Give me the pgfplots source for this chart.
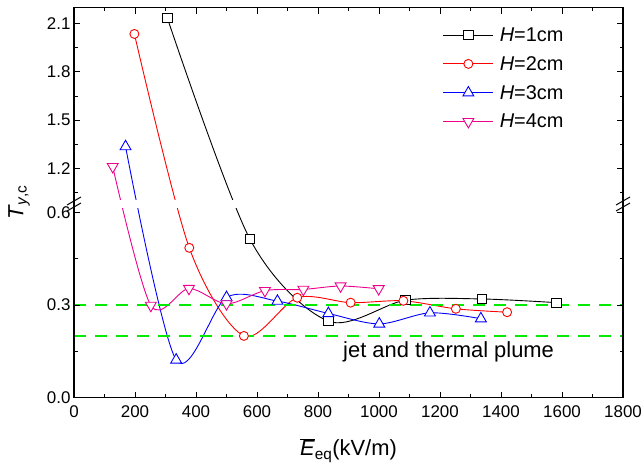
\documentclass[border=0pt]{standalone}
\usepackage{pgfplots}
\pgfplotsset{compat=1.18}
\usepackage{pgfplotstable}
\usepackage{fontspec}
\setmainfont{Liberation Sans}
\definecolor{dgreen}{RGB}{0,235,0}

\pgfplotstableread{
x y
306 2.135
577 0.514
834 0.248
1087 0.316
1337 0.320
1582 0.308
}\dataA
\pgfplotstableread{
x y
198 2.036
378 0.486
557 0.200
732 0.324
907 0.308
1080 0.314
1252 0.288
1420 0.277
}\dataB
\pgfplotstableread{
x y
169 1.335
335 0.122
500 0.325
667 0.313
834 0.273
1001 0.239
1167 0.275
1334 0.256
}\dataC
\pgfplotstableread{
x y
127 1.210
252 0.299
377 0.354
500 0.304
626 0.347
752 0.351
874 0.362
999 0.353
}\dataD

\pgfplotsset{
 sA/.style={black, line width=0.9bp},
 sB/.style={red, line width=0.9bp},
 sC/.style={blue, line width=0.9bp},
 sD/.style={magenta, line width=0.9bp},
 mA/.style={sA, mark=square*, mark size=4.7bp, mark options={fill=white, solid}},
 mB/.style={sB, mark=*, mark size=4.5bp, mark options={fill=white, solid}},
 mC/.style={sC, mark=triangle*, mark size=6.3bp, mark options={fill=white, solid}},
 mD/.style={sD, mark=triangle*, mark size=6.3bp, mark options={fill=white, solid, rotate=180}},
}

\begin{document}
\begin{tikzpicture}
\path[use as bounding box] (0,0) rectangle (644bp,-468bp);

\begin{axis}[name=main, at={(74bp,-397.5bp)}, anchor=south west,
  scale only axis, width=549bp, height=389.9bp,
  xmin=0, xmax=1800, ymin=0, ymax=2.2,
  y coord trafo/.code={\pgfmathparse{ifthenelse(#1>0.8, 0.640+(#1-1.0)*0.52175, #1)}},
  y coord inv trafo/.code={\pgfmathparse{ifthenelse(#1>0.628, 1.0+(#1-0.640)/0.52175, #1)}},
  axis on top,
  axis line style={black, line width=1.1bp},
  tick align=inside,
  major tick length=6bp, minor tick length=3.5bp,
  every tick/.append style={black, line width=0.9bp},
  xtick={0,200,...,1800}, minor x tick num=1,
  ytick={0,0.3,0.6,1.2,1.5,1.8,2.1},
  yticklabels={0.0,0.3,0.6,1.2,1.5,1.8,2.1},
  minor ytick={0.15,0.45,1.05,1.35,1.65,1.95},
  xtick pos=both, ytick pos=both,
  ticklabel style={font=\fontsize{17}{20}\selectfont},
  xticklabel style={yshift=-5bp},
  /pgf/number format/assume math mode=true,
  /pgf/number format/1000 sep={},
  xlabel={$\overline{\mbox{\itshape E}}$\textsubscript{eq}(kV/m)},
  xlabel style={font=\fontsize{22}{26}\selectfont, at={(rel axis cs:0.5,-0.150)}, anchor=base},
  ylabel={\textit{T}\textsubscript{\textit{y},c}},
  ylabel style={font=\fontsize{22}{26}\selectfont, at={(rel axis cs:-0.1,0.5)}, anchor=center},
  legend image code/.code={\draw[mark repeat=2,mark phase=2,#1] plot coordinates {(0bp,0bp)(25bp,0bp)(50bp,0bp)};},
  legend style={draw=none, fill=none, inner sep=0pt, outer sep=0pt,
    at={(rel axis cs:0.672,0.949)}, anchor=north west,
    font=\fontsize{20}{24}\selectfont, row sep=13.5bp, column sep=6bp,
    nodes={inner sep=0pt}},
  legend cell align=left,
]
\addplot[sA, smooth, forget plot] table {\dataA};
\addplot[mA, only marks, forget plot] table {\dataA};
\addplot[sB, smooth, forget plot] table {\dataB};
\addplot[mB, only marks, forget plot] table {\dataB};
\addplot[sC, smooth, forget plot] table {\dataC};
\addplot[mC, only marks, forget plot] table {\dataC};
\addplot[sD, smooth, forget plot] table {\dataD};
\addplot[mD, only marks, forget plot] table {\dataD};
\addplot[dgreen, line width=2.5bp, dash pattern=on 12bp off 9bp, forget plot] coordinates {(0,0.3)(1800,0.3)};
\addplot[dgreen, line width=2.5bp, dash pattern=on 12bp off 9bp, forget plot] coordinates {(0,0.2)(1800,0.2)};
% axis break band
\fill[white] (axis cs:0,0.615) rectangle (axis cs:1800,1.0);
\node[anchor=west, font=\fontsize{22}{26}\selectfont, inner sep=0pt] at (axis cs:882,0.148) {jet and thermal plume};
\addlegendimage{mA}
\addlegendentry{\textit{H}=1cm}
\addlegendimage{mB}
\addlegendentry{\textit{H}=2cm}
\addlegendimage{mC}
\addlegendentry{\textit{H}=3cm}
\addlegendimage{mD}
\addlegendentry{\textit{H}=4cm}
\end{axis}

% break marks
\foreach \xx in {74,623}{
  \draw[black, line width=1bp] (\xx bp-7bp,-205bp) -- (\xx bp+7bp,-197bp);
  \draw[black, line width=1bp] (\xx bp-7bp,-211bp) -- (\xx bp+7bp,-203bp);
}
\end{tikzpicture}
\end{document}
